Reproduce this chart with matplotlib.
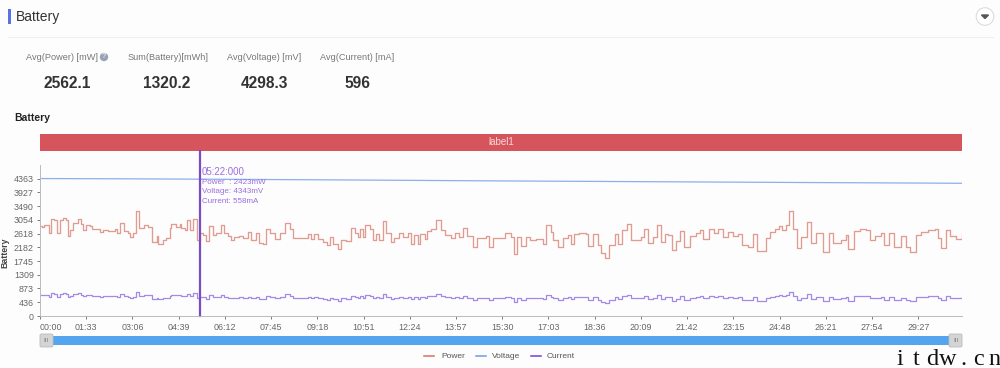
import matplotlib
matplotlib.use('Agg')
import matplotlib.pyplot as plt
from matplotlib.patches import Rectangle, Circle, FancyBboxPatch

# time of each step in seconds, and readings at that step
times = [0, 4, 9, 18, 19, 22, 29, 34, 41, 46, 53, 56, 61, 66, 76, 83, 86, 92, 100, 105,
         113, 120, 126, 136, 150, 155, 161, 168, 177, 181, 187, 193, 200, 210, 217, 226, 235, 238, 247, 254,
         261, 264, 274, 281, 284, 291, 295, 302, 308, 316, 321, 328, 334, 341, 348, 354, 364, 371, 378, 385,
         391, 401, 408, 418, 425, 435, 440, 448, 455, 462, 472, 482, 492, 502, 509, 522, 539, 546, 552, 559,
         569, 578, 583, 589, 599, 606, 616, 626, 633, 640, 644, 650, 654, 663, 670, 676, 683, 690, 697, 707,
         713, 723, 731, 740, 747, 752, 760, 765, 774, 778, 787, 797, 807, 814, 827, 834, 844, 852, 859, 872,
         879, 898, 903, 911, 935, 948, 953, 959, 968, 978, 985, 998, 1012, 1018, 1029, 1033, 1042, 1052, 1062, 1069,
         1075, 1085, 1099, 1102, 1112, 1122, 1129, 1136, 1145, 1156, 1163, 1171, 1181, 1189, 1210, 1216, 1223, 1233, 1241, 1250,
         1257, 1263, 1272, 1279, 1288, 1295, 1308, 1320, 1328, 1334, 1346, 1357, 1364, 1374, 1384, 1394, 1405, 1413, 1424, 1434,
         1442, 1460, 1468, 1478, 1487, 1493, 1501, 1507, 1515, 1523, 1532, 1543, 1552, 1562, 1575, 1587, 1595, 1612, 1621, 1625,
         1637, 1649, 1661, 1669, 1679, 1693, 1699, 1709, 1718, 1733, 1743, 1751, 1763, 1773, 1786, 1800, 1806, 1813, 1822, 1831,
         1843, 1855]

power = [2851, 2830, 2904, 2883, 2640, 3094, 3041, 2650, 3062, 3126, 3041, 2545, 2724, 2957, 3094, 2915, 2724, 2883, 2851, 2777,
         2746, 2672, 2724, 2703, 2777, 2640, 2967, 2693, 2619, 2492, 2619, 3337, 2809, 2883, 2830, 2355, 2534, 2270, 2408, 2460,
         2809, 2936, 2830, 2915, 2809, 2724, 3062, 2724, 3094, 2408, 2640, 2566, 2387, 2851, 2566, 2640, 2904, 2640, 2534, 2408,
         2492, 2545, 2460, 2672, 2408, 2619, 2323, 2270, 2746, 2619, 2429, 2640, 2967, 2746, 2482, 2460, 2598, 2429, 2598, 2429,
         2355, 2249, 2492, 2281, 2112, 2408, 2387, 2809, 2640, 2492, 2767, 2492, 2883, 2777, 2408, 2598, 2408, 3010, 2619, 2334,
         2460, 2640, 2492, 2640, 2281, 2566, 2281, 2598, 2429, 2703, 2746, 3062, 2724, 2566, 2460, 2619, 2492, 2809, 2534, 2196,
         2460, 2534, 2196, 2460, 2619, 2492, 1964, 2492, 2218, 2492, 2408, 2429, 2281, 2883, 2672, 2408, 2196, 2460, 2566, 2281,
         2598, 2640, 2598, 2218, 2587, 2249, 1985, 1827, 2249, 2587, 2281, 2724, 2936, 2408, 2513, 2756, 2302, 2492, 2883, 2334,
         2598, 2566, 2091, 2387, 2703, 2175, 2534, 2619, 2724, 2429, 2777, 2619, 2777, 2492, 2672, 2534, 2598, 2249, 2196, 2587,
         2070, 2460, 2672, 2777, 2851, 2724, 2883, 3326, 2746, 2144, 2513, 2988, 2302, 2640, 2038, 2619, 2302, 2408, 2566, 2112,
         2703, 2746, 2724, 2408, 2534, 2640, 2249, 2619, 2196, 2534, 2196, 2038, 2566, 2672, 2724, 2777, 2460, 2144, 2724, 2534,
         2429, 2640]

current = [659, 654, 671, 666, 610, 715, 702, 612, 707, 722, 702, 588, 629, 683, 715, 673, 629, 666, 659, 641,
           634, 617, 629, 624, 641, 610, 685, 622, 605, 576, 605, 771, 649, 666, 654, 544, 585, 524, 556, 568,
           649, 678, 654, 673, 649, 629, 707, 629, 715, 556, 610, 593, 551, 659, 593, 610, 671, 610, 585, 556,
           576, 588, 568, 617, 556, 605, 537, 524, 634, 605, 561, 610, 685, 634, 573, 568, 600, 561, 600, 561,
           544, 520, 576, 527, 488, 556, 551, 649, 610, 576, 639, 576, 666, 641, 556, 600, 556, 695, 605, 539,
           568, 610, 576, 610, 527, 593, 527, 600, 561, 624, 634, 707, 629, 593, 568, 605, 576, 649, 585, 507,
           568, 585, 507, 568, 605, 576, 454, 576, 512, 576, 556, 561, 527, 666, 617, 556, 507, 568, 593, 527,
           600, 610, 600, 512, 598, 520, 459, 422, 520, 598, 527, 629, 678, 556, 580, 637, 532, 576, 666, 539,
           600, 593, 483, 551, 624, 502, 585, 605, 629, 561, 641, 605, 641, 576, 617, 585, 600, 520, 507, 598,
           478, 568, 617, 641, 659, 629, 666, 768, 634, 495, 580, 690, 532, 610, 471, 605, 532, 556, 593, 488,
           624, 634, 629, 556, 585, 610, 520, 605, 507, 585, 507, 471, 593, 617, 629, 641, 568, 495, 629, 585,
           561, 610]

volt_times = [0, 160, 322, 600, 900, 1200, 1500, 1855]
voltage = [4363, 4355, 4343, 4320, 4290, 4265, 4240, 4213]

y_ticks = [0, 436, 873, 1309, 1745, 2182, 2618, 3054, 3490, 3927, 4363]
x_ticks = [93 * i for i in range(20)]
x_labels = ['00:00', '01:33', '03:06', '04:39', '06:12', '07:45', '09:18', '10:51', '12:24', '13:57',
            '15:30', '17:03', '18:36', '20:09', '21:42', '23:15', '24:48', '26:21', '27:54', '29:27']

cards = ['Avg(Power) [mW]', 'Sum(Battery)[mWh]', 'Avg(Voltage) [mV]', 'Avg(Current) [mA]']
card_values = ['2562.1', '1320.2', '4298.3', '596']

plt.rcParams['font.family'] = ['Liberation Sans', 'DejaVu Sans']

fig = plt.figure(figsize=(10, 3.68), dpi=100, facecolor='#fdfdfd')
W, H = 1000.0, 368.0

# page furniture drawn in pixel coordinates
page = fig.add_axes([0, 0, 1, 1], zorder=0)
page.set_xlim(0, W)
page.set_ylim(H, 0)
page.axis('off')

page.add_patch(Rectangle((8, 9), 2.5, 15, color='#5b6fe6', lw=0))
page.text(15.5, 17, 'Battery', fontsize=10, color='#333333', va='center', ha='left')
page.plot([8, 993], [37, 37], color='#f0f0f0', lw=0.8)
page.add_patch(Circle((985, 16.5), 8.8, fc='white', ec='#dcdcdc', lw=0.8))
page.fill([981.5, 988.5, 985], [15, 15, 18.5], color='#555555')

label_x = [61.5, 168, 264, 357.5]
value_x = [67, 167, 264, 357]
for lx, vx, name, val in zip(label_x, value_x, cards, card_values):
    page.text(lx, 57, name, fontsize=6.6, color='#777777', ha='center', va='center')
    page.text(vx, 84, val, fontsize=11.2, fontweight='bold', color='#333333', ha='center', va='center')
page.add_patch(Circle((104, 57), 4.2, fc='#98a2b5', ec='none'))
page.text(104, 57, '?', fontsize=5.5, color='white', ha='center', va='center')

page.text(14.5, 118, 'Battery', fontsize=7.5, fontweight='bold', color='#222222', va='center')

page.add_patch(Rectangle((40, 133.5), 922, 17.5, color='#d6545c', lw=0))
page.text(501, 142, 'label1', fontsize=7, color='#f7dcdc', ha='center', va='center')

# zoom slider
page.add_patch(Rectangle((45, 336), 912, 9.2, color='#55a5ee', lw=0))
for hx in [46.5, 955.5]:
    page.add_patch(FancyBboxPatch((hx - 6.5, 334), 13, 13, boxstyle='round,pad=0,rounding_size=1.5',
                                  fc='#d4d4d4', ec='#bcbcbc', lw=0.6, zorder=3))
    page.text(hx, 340.5, 'III', fontsize=4.5, color='#777777', ha='center', va='center', zorder=4)

# legend
legend_items = [('Power', '#d9705f', 424, 441), ('Voltage', '#6f9ce8', 476, 492), ('Current', '#6a45d8', 531, 547)]
for name, col, x0, tx in legend_items:
    page.plot([x0, x0 + 10], [356, 356], color=col, lw=1.1)
    page.text(tx, 356, name, fontsize=6.0, color='#555555', va='center', ha='left')

# watermark, cut by the edge of the image
wm_x = [900, 916, 932, 948, 963, 978, 995]
for x, ch in zip(wm_x, 'itdw.cn'):
    page.text(x, 365, ch, fontsize=17.5, family='Liberation Serif', color='#111111', ha='center', va='baseline')

# main chart
ax = fig.add_axes([40 / W, 1 - 316 / H, 922 / W, 151 / H], zorder=1)
ax.patch.set_alpha(0)
ax.set_xlim(0, 1855)
ax.set_ylim(0, 4793)
ax.step(times, power, where='post', color='#e09c90', lw=0.95)
ax.plot(volt_times, voltage, color='#8bb0ea', lw=0.9)
ax.step(times, current, where='post', color='#a48ae6', lw=0.9)
# cursor runs up past the axis to the label bar
ax.axvline(322, ymax=165 / 151, color='#7a4cc4', lw=1.6, clip_on=False)

ax.set_xticks(x_ticks)
ax.set_xticklabels(x_labels)
ax.get_xticklabels()[0].set_ha('left')
ax.set_yticks(y_ticks)
ax.tick_params(axis='both', labelsize=6.4, colors='#666666', length=2.5, width=0.6, pad=2)
ax.tick_params(axis='x', pad=2.5)
for s in ['top', 'right']:
    ax.spines[s].set_visible(False)
for s in ['left', 'bottom']:
    ax.spines[s].set_color('#bbbbbb')
    ax.spines[s].set_linewidth(0.7)
ax.set_ylabel('Battery', fontsize=6.3, fontweight='bold', color='#444444')
ax.yaxis.set_label_coords(-0.0337, 0.417)

# tooltip
tip = '#9a6fe0'
page2 = fig.add_axes([0, 0, 1, 1], zorder=2)
page2.set_xlim(0, W)
page2.set_ylim(H, 0)
page2.axis('off')
page2.text(201.5, 172, '05:22:000', fontsize=7.0, color=tip, va='center')
page2.text(201.5, 183, 'Power  : 2423mW', fontsize=5.8, color=tip, va='center')
page2.text(201.5, 191.5, 'Voltage: 4343mV', fontsize=5.8, color=tip, va='center')
page2.text(201.5, 201.5, 'Current: 558mA', fontsize=5.8, color=tip, va='center')

fig.savefig('out.png', dpi=100, facecolor=fig.get_facecolor())
